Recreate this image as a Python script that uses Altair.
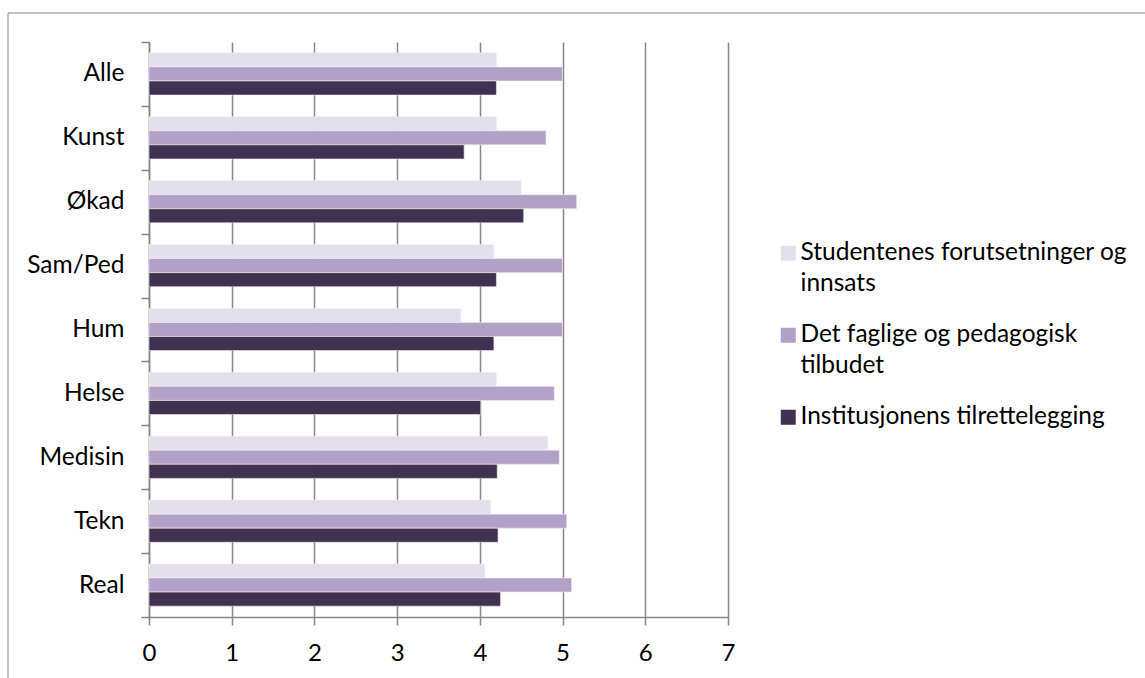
import altair as alt
import pandas as pd

# Faculty groups, top to bottom
categories = ["Alle", "Kunst", "Økad", "Sam/Ped", "Hum", "Helse", "Medisin", "Tekn", "Real"]

# Series names and how they wrap in the legend
series = [
    "Studentenes forutsetninger og innsats",
    "Det faglige og pedagogisk tilbudet",
    "Institusjonens tilrettelegging",
]
series_lines = [
    ["Studentenes forutsetninger og", "innsats"],
    ["Det faglige og pedagogisk", "tilbudet"],
    ["Institusjonens tilrettelegging"],
]

# Mean scores per group
studentenes = [4.20, 4.20, 4.50, 4.17, 3.77, 4.20, 4.82, 4.13, 4.06]
faglige = [5.00, 4.80, 5.17, 5.00, 5.00, 4.90, 4.96, 5.05, 5.11]
institusjonens = [4.20, 3.81, 4.53, 4.20, 4.17, 4.01, 4.21, 4.22, 4.25]

x_ticks = [0, 1, 2, 3, 4, 5, 6, 7]
colors = ["#E5DFEC", "#B2A1C7", "#403151"]

rows = []
for name, values in zip(series, [studentenes, faglige, institusjonens]):
    for cat, v in zip(categories, values):
        rows.append({"gruppe": cat, "serie": name, "verdi": v})
df = pd.DataFrame(rows)

# Legend labels broken over lines
label_expr = ""
for name, lines in zip(series, series_lines):
    arr = "[" + ", ".join("'" + l + "'" for l in lines) + "]"
    label_expr += f"datum.label == '{name}' ? {arr} : "
label_expr += "datum.label"

GRID = "#868686"
FONT = "Lato"

bars = alt.Chart(df).mark_bar(stroke="#F2EEF6", strokeWidth=0.6).encode(
    x=alt.X(
        "verdi:Q",
        scale=alt.Scale(domain=[0, 7], nice=False),
        axis=alt.Axis(
            values=x_ticks, title=None, grid=True, gridColor=GRID, gridWidth=1.5,
            domainColor=GRID, domainWidth=1.5, tickColor=GRID, tickWidth=1.5,
            tickSize=8, labelPadding=16, labelFontSize=24, labelFont=FONT,
            labelColor="#000000", format="d", labelFlush=False,
        ),
    ),
    y=alt.Y(
        "gruppe:N",
        sort=categories,
        scale=alt.Scale(paddingInner=0, paddingOuter=0),
        axis=alt.Axis(
            title=None, tickBand="extent", tickSize=8, tickColor=GRID, tickWidth=1.5,
            domainColor=GRID, domainWidth=1.5, labelPadding=17, labelFontSize=24.5,
            labelFont=FONT, labelColor="#000000", grid=False,
        ),
    ),
    yOffset=alt.YOffset(
        "serie:N", sort=series, scale=alt.Scale(paddingInner=0, paddingOuter=0.77)
    ),
    color=alt.Color(
        "serie:N",
        sort=series,
        scale=alt.Scale(domain=series, range=colors),
        legend=alt.Legend(
            title=None, orient="none", legendX=627, legendY=199, padding=0,
            symbolType="square", symbolSize=225, symbolStrokeWidth=0,
            labelFontSize=24.5, labelFont=FONT, labelColor="#000000",
            labelLimit=0, labelOffset=0, rowPadding=26, labelExpr=label_expr,
            labelBaseline="middle",
        ),
    ),
)

# Chart-area frame
frame = alt.Chart(pd.DataFrame({"k": [0]})).mark_rect(
    fillOpacity=0, stroke=GRID, strokeWidth=1
).encode(
    x=alt.value(-141), x2=alt.value(1010), y=alt.value(-29), y2=alt.value(660)
)

chart = alt.layer(frame, bars).properties(
    width=579,
    height=575,
    padding={"left": 149, "top": 42, "right": 417, "bottom": 61},
    autosize=alt.AutoSizeParams(type="none"),
).configure(
    style={"guide-label": {"lineHeight": 31}}
).configure_view(strokeWidth=0)

chart.save("out.html", embed_options={"renderer": "svg", "actions": False})
